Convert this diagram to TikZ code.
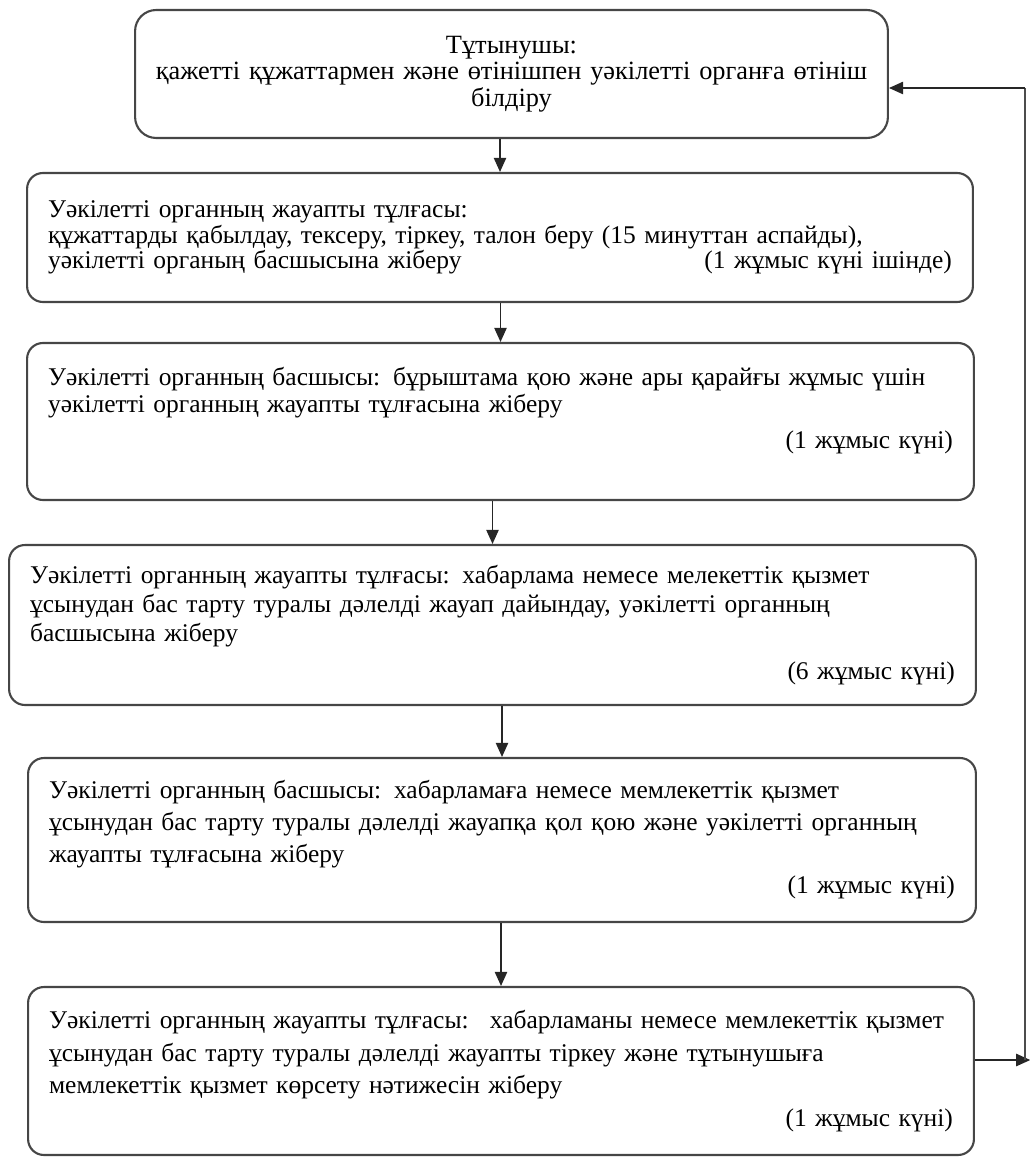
\documentclass[tikz,border=0pt]{standalone}
\usepackage{fontspec}
\setmainfont{Liberation Serif}
\usepackage{tikz}
\usetikzlibrary{arrows.meta, positioning, calc}
\definecolor{boxline}{RGB}{70,70,70}

\begin{document}
\begin{tikzpicture}[
  x=0.02cm, y=-0.02cm,
  stepbox/.style={rectangle, rounded corners=9pt, draw=boxline, line width=1.2pt,
    align=left, inner xsep=0.42cm, inner ysep=0pt,
    font=\fontsize{14.5}{16.5}\selectfont},
  arr/.style={-{Triangle[length=8pt, width=7pt]}, line width=0.8pt, draw=black!85},
  link/.style={line width=0.8pt, draw=black!70}
]
\useasboundingbox (0,0) rectangle (1029,1158);

\node[stepbox, align=center, rounded corners=12pt, minimum width=15.06cm,
  minimum height=2.56cm, text width=14.4cm, inner xsep=0.33cm,
  font=\fontsize{15}{15}\selectfont] (b1) at (511.5,74)
  {Тұтынушы:\\
   қажетті құжаттармен және өтінішпен уәкілетті органға өтініш\\
   білдіру};

\node[stepbox, minimum width=18.92cm, minimum height=2.58cm, text width=18.08cm,
  font=\fontsize{14.5}{14.5}\selectfont] (b2) at (500,237.5)
  {Уәкілетті органның жауапты тұлғасы:\\
   құжаттарды қабылдау, тексеру, тіркеу, талон беру (15 минуттан аспайды),\\
   уәкілетті органың басшысына жіберу \hfill (1 жұмыс күні ішінде)};

\node[stepbox, minimum width=18.94cm, minimum height=3.14cm, text width=18.1cm,
  font=\fontsize{14.5}{15.5}\selectfont] (b3) at (500.5,421.5)
  {Уәкілетті органның басшысы: бұрыштама қою және ары қарайғы жұмыс үшін\\
   уәкілетті органның жауапты тұлғасына жіберу\\[5pt]
   \mbox{}\hfill (1 жұмыс күні)\\
   \mbox{}};

\node[stepbox, minimum width=19.34cm, minimum height=3.2cm, text width=18.5cm,
  font=\fontsize{14.5}{16.5}\selectfont] (b4) at (492.5,625)
  {Уәкілетті органның жауапты тұлғасы: хабарлама немесе мелекеттік қызмет\\
   ұсынудан бас тарту туралы дәлелді жауап дайындау, уәкілетті органның\\
   басшысына жіберу\\[5pt]
   \mbox{}\hfill (6 жұмыс күні)};

\node[stepbox, minimum width=18.96cm, minimum height=3.28cm, text width=18.12cm,
  font=\fontsize{14.5}{18}\selectfont] (b5) at (502,840)
  {Уәкілетті органның басшысы: хабарламаға немесе мемлекеттік қызмет\\
   ұсынудан бас тарту туралы дәлелді жауапқа қол қою және уәкілетті органның\\
   жауапты тұлғасына жіберу\\
   \mbox{}\hfill (1 жұмыс күні)};

\node[stepbox, minimum width=18.92cm, minimum height=3.36cm, text width=18.08cm,
  font=\fontsize{14.5}{18.5}\selectfont] (b6) at (501,1071)
  {Уәкілетті органның жауапты тұлғасы: \ хабарламаны немесе мемлекеттік қызмет\\
   ұсынудан бас тарту туралы дәлелді жауапты тіркеу және тұтынушыға\\
   мемлекеттік қызмет көрсету нәтижесін жіберу\\
   \mbox{}\hfill (1 жұмыс күні)};

% main flow
\foreach \f/\t in {b1/b2, b2/b3, b3/b4, b4/b5, b5/b6}
  \draw[arr] (\f.south -| \t.north) -- (\t.north);

% return to the consumer
\coordinate (fbtop) at (1025,88);
\coordinate (fbbot) at (1025,1060);
\draw[arr] (b6.east |- fbbot) -- ([xshift=3pt]fbbot);
\draw[link] (fbbot) -- (fbtop);
\draw[arr] (fbtop) -- (fbtop -| b1.east);
\end{tikzpicture}
\end{document}
